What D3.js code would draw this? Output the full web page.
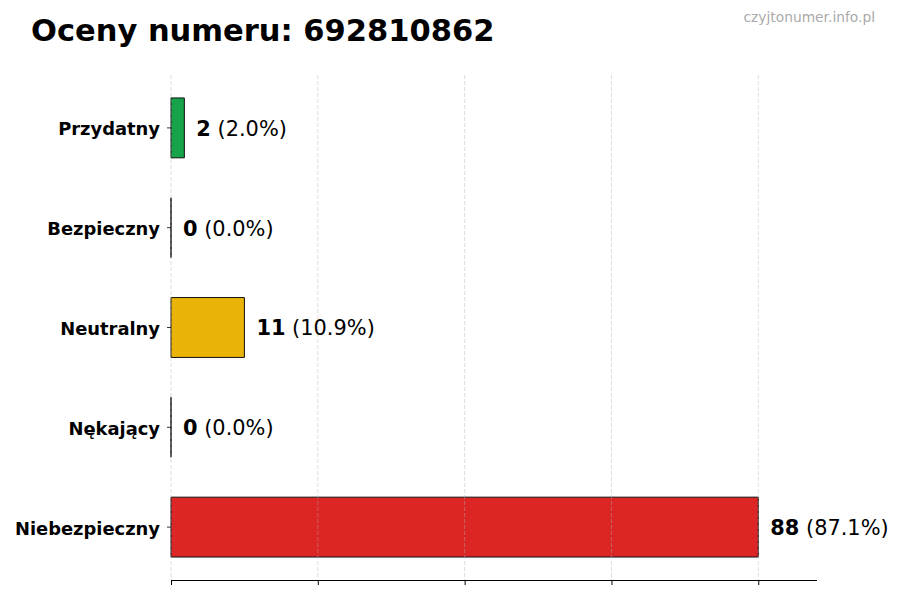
<!DOCTYPE html>
<html>
<head>
<meta charset="utf-8">
<script src="https://cdn.jsdelivr.net/npm/d3@7/dist/d3.min.js"></script>
<style>
  html, body { margin: 0; padding: 0; background: #fff; }
  svg { display: block; font-family: "DejaVu Sans", sans-serif; }
</style>
</head>
<body>
<svg id="chart" width="900" height="600"></svg>
<script>
const categories = ["Przydatny", "Bezpieczny", "Neutralny", "Nękający", "Niebezpieczny"];
const counts = [2, 0, 11, 0, 88];
const percents = ["2.0%", "0.0%", "10.9%", "0.0%", "87.1%"];
const colors = ["#16a34a", "#2563eb", "#eab308", "#f97316", "#dc2626"];
const xTicks = [0, 22, 44, 66, 88];
const title = "Oceny numeru: 692810862";
const watermark = "czyjtonumer.info.pl";

(function () {
const svg = d3.select("#chart");
const mLeft = 171, mRight = 817, mTop = 75, mBottom = 580;
const maxV = d3.max(counts);
const x = d3.scaleLinear().domain([0, maxV * 1.1]).range([mLeft, mRight]);
const barH = 0.6;
const y = d3.scaleLinear().domain([-0.53, categories.length - 1 + 0.53]).range([mTop, mBottom]);

// bars
const barG = svg.append("g");
categories.forEach((c, i) => {
  const x0 = x(0), x1 = x(counts[i]);
  const y0 = y(i - barH / 2), y1 = y(i + barH / 2);
  const p = d3.path();
  p.moveTo(x0, y0); p.lineTo(x1, y0); p.lineTo(x1, y1); p.lineTo(x0, y1); p.closePath();
  barG.append("path").attr("d", p.toString())
    .attr("fill", colors[i])
    .attr("stroke", "#111").attr("stroke-width", 1);
});

// grid (drawn above bars, light)
svg.append("g").selectAll("line").data(xTicks).join("line")
  .attr("x1", d => x(d)).attr("x2", d => x(d))
  .attr("y1", mTop).attr("y2", mBottom)
  .attr("stroke", "#b0b0b0").attr("stroke-opacity", 0.55)
  .attr("stroke-width", 0.8).attr("stroke-dasharray", "4,2");

// bottom axis
const xAxis = d3.axisBottom(x).tickValues(xTicks).tickSize(5).tickFormat("");
const gx = svg.append("g").attr("transform", `translate(0,${mBottom})`).call(xAxis);
gx.select(".domain").attr("d", `M${mLeft},0.5H${mRight}`).attr("stroke", "#000");
gx.selectAll(".tick line").attr("stroke", "#000");

// left ticks & labels
const ly = svg.append("g");
categories.forEach((c, i) => {
  ly.append("line").attr("x1", mLeft - 4).attr("x2", mLeft).attr("y1", y(i)).attr("y2", y(i))
    .attr("stroke", "#000").attr("stroke-width", 0.8);
  ly.append("text").attr("x", mLeft - 11).attr("y", y(i)).attr("dy", "0.42em")
    .attr("text-anchor", "end").attr("font-size", "17.9px").attr("font-weight", "bold")
    .attr("fill", "#000").text(c);
});

// value labels
const vl = svg.append("g");
categories.forEach((c, i) => {
  const t = vl.append("text").attr("x", x(counts[i]) + 12).attr("y", y(i)).attr("dy", "0.38em")
    .attr("font-size", "20.9px").attr("fill", "#000");
  t.append("tspan").attr("font-weight", "bold").text(counts[i]);
  t.append("tspan").text(" (" + percents[i] + ")");
});

// title
svg.append("text").attr("x", 31).attr("y", 41).attr("font-size", "30.5px")
  .attr("font-weight", "bold").attr("fill", "#000").text(title);

// watermark
svg.append("text").attr("x", 875).attr("y", 22).attr("text-anchor", "end")
  .attr("font-size", "13.8px").attr("fill", "#aaaaaa").text(watermark);
})();
</script>
</body>
</html>
